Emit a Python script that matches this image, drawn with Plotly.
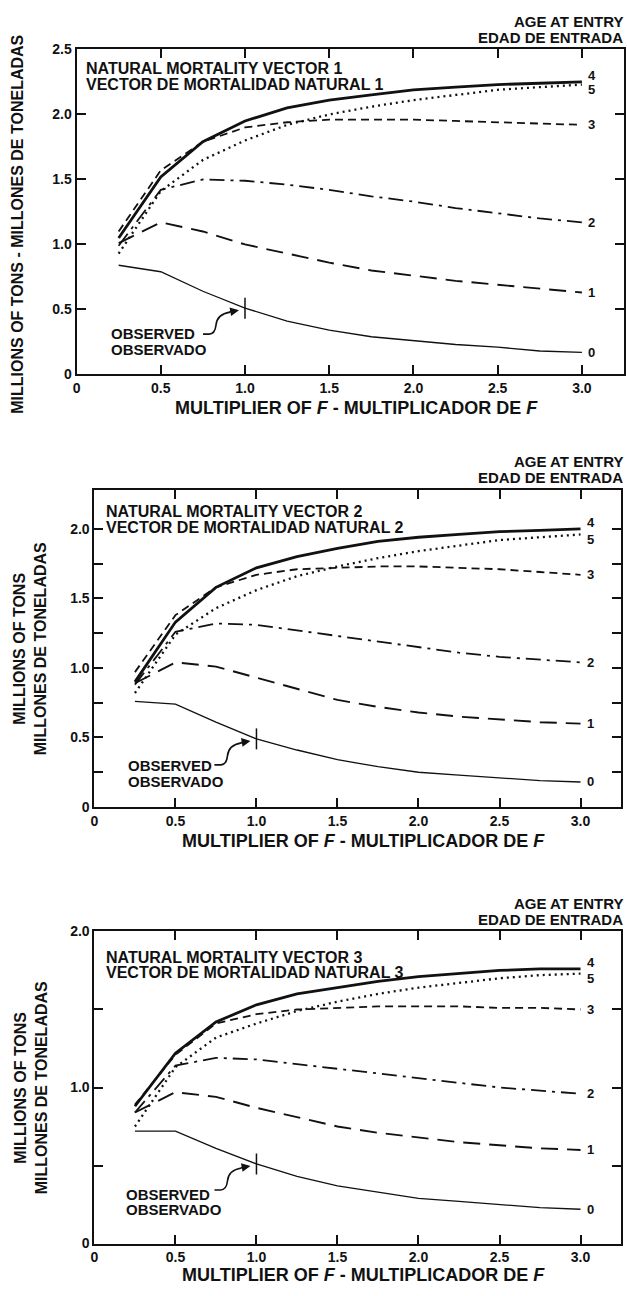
import plotly.graph_objects as go

# ---------------- data ----------------
F_MULT = [0.25, 0.5, 0.75, 1.0, 1.25, 1.5, 1.75, 2.0, 2.25, 2.5, 2.75, 3.0]
AGE_LABELS = ["0", "1", "2", "3", "4", "5"]
OBSERVED_F = 1.0

X_TICKS = [0, 0.5, 1.0, 1.5, 2.0, 2.5, 3.0]
X_TICKTEXT = ["0", "0.5", "1.0", "1.5", "2.0", "2.5", "3.0"]

# Vector 1
V1_AGE0 = [0.84, 0.79, 0.64, 0.51, 0.41, 0.34, 0.29, 0.26, 0.23, 0.21, 0.18, 0.17]
V1_AGE1 = [1.01, 1.17, 1.10, 1.00, 0.93, 0.86, 0.80, 0.76, 0.72, 0.69, 0.66, 0.63]
V1_AGE2 = [0.99, 1.42, 1.50, 1.49, 1.46, 1.42, 1.37, 1.33, 1.28, 1.24, 1.20, 1.17]
V1_AGE3 = [1.10, 1.57, 1.79, 1.90, 1.94, 1.96, 1.96, 1.96, 1.95, 1.94, 1.93, 1.92]
V1_AGE4 = [1.05, 1.52, 1.79, 1.95, 2.05, 2.11, 2.15, 2.19, 2.21, 2.23, 2.24, 2.25]
V1_AGE5 = [0.93, 1.41, 1.65, 1.80, 1.92, 2.00, 2.06, 2.11, 2.15, 2.19, 2.21, 2.23]

# Vector 2
V2_AGE0 = [0.76, 0.74, 0.61, 0.49, 0.41, 0.34, 0.29, 0.25, 0.23, 0.21, 0.19, 0.18]
V2_AGE1 = [0.89, 1.04, 1.01, 0.93, 0.85, 0.77, 0.72, 0.68, 0.65, 0.63, 0.61, 0.60]
V2_AGE2 = [0.88, 1.26, 1.32, 1.31, 1.27, 1.23, 1.19, 1.15, 1.11, 1.08, 1.06, 1.04]
V2_AGE3 = [0.97, 1.38, 1.58, 1.67, 1.71, 1.72, 1.73, 1.73, 1.72, 1.71, 1.69, 1.67]
V2_AGE4 = [0.90, 1.33, 1.58, 1.72, 1.80, 1.86, 1.91, 1.94, 1.96, 1.98, 1.99, 2.00]
V2_AGE5 = [0.82, 1.24, 1.43, 1.56, 1.66, 1.73, 1.79, 1.84, 1.88, 1.92, 1.94, 1.96]

# Vector 3
V3_AGE0 = [0.72, 0.72, 0.61, 0.51, 0.43, 0.37, 0.33, 0.29, 0.27, 0.25, 0.23, 0.22]
V3_AGE1 = [0.84, 0.97, 0.94, 0.87, 0.81, 0.75, 0.71, 0.68, 0.65, 0.63, 0.61, 0.60]
V3_AGE2 = [0.84, 1.14, 1.19, 1.18, 1.15, 1.12, 1.09, 1.06, 1.03, 1.00, 0.98, 0.96]
V3_AGE3 = [0.89, 1.21, 1.41, 1.47, 1.50, 1.51, 1.52, 1.52, 1.52, 1.51, 1.51, 1.50]
V3_AGE4 = [0.88, 1.22, 1.42, 1.53, 1.60, 1.64, 1.68, 1.71, 1.73, 1.75, 1.76, 1.76]
V3_AGE5 = [0.75, 1.13, 1.32, 1.41, 1.49, 1.55, 1.60, 1.64, 1.67, 1.70, 1.72, 1.73]

P1_YTICKS = [0, 0.5, 1.0, 1.5, 2.0, 2.5]
P1_YTEXT = ["0", "0.5", "1.0", "1.5", "2.0", "2.5"]
P2_YTICKS = [0, 0.25, 0.5, 0.75, 1.0, 1.25, 1.5, 1.75, 2.0]
P2_YTEXT = ["0", "", "0.5", "", "1.0", "", "1.5", "", "2.0"]
P3_YTICKS = [0, 0.5, 1.0, 1.5, 2.0]
P3_YTEXT = ["0", "", "1.0", "", "2.0"]

PANEL_TITLES = [
    ("NATURAL MORTALITY VECTOR 1", "VECTOR DE MORTALIDAD NATURAL 1"),
    ("NATURAL MORTALITY VECTOR 2", "VECTOR DE MORTALIDAD NATURAL 2"),
    ("NATURAL MORTALITY VECTOR 3", "VECTOR DE MORTALIDAD NATURAL 3"),
]

# ---------------- layout constants ----------------
W, H = 627, 1296
FONT = "Liberation Sans, Arial, Helvetica, sans-serif"
BLACK = "#111111"

STYLES = [
    dict(width=1.3, dash="solid"),
    dict(width=1.9, dash="17px,9px"),
    dict(width=1.8, dash="15px,6px,3px,6px"),
    dict(width=1.8, dash="8px,5px"),
    dict(width=2.8, dash="solid"),
    dict(width=2.3, dash="2px,4px"),
]
LABEL_YSHIFT = [0, 0, 0, 0, 6, -5]


def px_x(p):
    return p / W


def px_y(p):
    return 1 - p / H


panels = [
    dict(data=[V1_AGE0, V1_AGE1, V1_AGE2, V1_AGE3, V1_AGE4, V1_AGE5],
         xdom=(73, 624), ydom=(42, 371), yrange=[0, 2.5],
         yt=P1_YTICKS, ytt=P1_YTEXT,
         age_y=(14, 30), nat_x=82, nat_y=(61, 77), obs=(107, 330, 346),
         xtitle_y=405, ytitle_x=14, ytitle_one=True),
    dict(data=[V2_AGE0, V2_AGE1, V2_AGE2, V2_AGE3, V2_AGE4, V2_AGE5],
         xdom=(91, 621), ydom=(488, 809), yrange=[0, 2.28],
         yt=P2_YTICKS, ytt=P2_YTEXT,
         age_y=(459, 475), nat_x=102, nat_y=(510, 526), obs=(124, 767, 783),
         xtitle_y=843, ytitle_x=27, ytitle_one=False),
    dict(data=[V3_AGE0, V3_AGE1, V3_AGE2, V3_AGE3, V3_AGE4, V3_AGE5],
         xdom=(91, 621), ydom=(935, 1251), yrange=[0, 2.0],
         yt=P3_YTICKS, ytt=P3_YTEXT,
         age_y=(907, 923), nat_x=102, nat_y=(961, 977), obs=(122, 1201, 1217),
         xtitle_y=1283, ytitle_x=27, ytitle_one=False),
]

fig = go.Figure()
annotations = []
shapes = []

for i, p in enumerate(panels, start=1):
    sfx = "" if i == 1 else str(i)
    xref, yref = "x" + sfx, "y" + sfx
    for k, ys in enumerate(p["data"]):
        fig.add_trace(go.Scatter(
            x=F_MULT, y=ys, mode="lines", xaxis=xref, yaxis=yref,
            line=dict(color=BLACK, width=STYLES[k]["width"], dash=STYLES[k]["dash"]),
            showlegend=False, hoverinfo="skip"))
        annotations.append(dict(
            x=F_MULT[-1], y=ys[-1], xref=xref, yref=yref, text="<b>%s</b>" % AGE_LABELS[k],
            showarrow=False, xanchor="left", yanchor="middle", xshift=4,
            yshift=LABEL_YSHIFT[k], font=dict(family=FONT, size=13, color=BLACK)))
    # observed marker on age-0 curve
    age0 = p["data"][0]
    obs_y = age0[F_MULT.index(OBSERVED_F)]
    fig.add_trace(go.Scatter(
        x=[OBSERVED_F], y=[obs_y], mode="markers", xaxis=xref, yaxis=yref,
        marker=dict(symbol="line-ns", size=15, line=dict(color=BLACK, width=1.5)),
        showlegend=False, hoverinfo="skip"))
    # curved arrow
    shapes.append(dict(
        type="path", xref=xref, yref=yref, xsizemode="pixel", ysizemode="pixel",
        xanchor=OBSERVED_F, yanchor=obs_y,
        path="M -42,-26 L -36,-26 Q -30,-26 -29,-17 Q -28,-6 -15,-4",
        line=dict(color=BLACK, width=1.6)))
    annotations.append(dict(
        x=OBSERVED_F, y=obs_y, xref=xref, yref=yref, text="", showarrow=True,
        xshift=-6, yshift=-2, ax=-11, ay=2, arrowhead=2, arrowsize=1.1,
        arrowwidth=1.6, arrowcolor=BLACK))

    x0, x1 = p["xdom"]
    y0, y1 = p["ydom"]
    axis_common = dict(
        showline=True, linecolor=BLACK, linewidth=2, mirror="allticks",
        ticks="inside", ticklen=9, tickwidth=1.5, tickcolor=BLACK,
        showgrid=False, zeroline=False,
        tickfont=dict(family=FONT, size=14, color=BLACK, weight="bold"))
    fig.update_layout(**{
        "xaxis" + sfx: dict(domain=[px_x(x0), px_x(x1)], range=[0, 3.25],
                            anchor=yref, tickmode="array", tickvals=X_TICKS,
                            ticktext=X_TICKTEXT, **axis_common),
        "yaxis" + sfx: dict(domain=[px_y(y1), px_y(y0)], range=p["yrange"],
                            anchor=xref, tickmode="array", tickvals=p["yt"],
                            ticktext=p["ytt"], **axis_common),
    })

    # texts
    af = dict(family=FONT, size=15, color=BLACK)
    nf = dict(family=FONT, size=16, color=BLACK)
    annotations.append(dict(x=px_x(624), y=px_y(p["age_y"][0]), xref="paper", yref="paper",
                            text="<b>AGE AT ENTRY</b>", showarrow=False, xanchor="right",
                            yanchor="middle", font=af, borderpad=0))
    annotations.append(dict(x=px_x(624), y=px_y(p["age_y"][1]), xref="paper", yref="paper",
                            text="<b>EDAD DE ENTRADA</b>", showarrow=False, xanchor="right",
                            yanchor="middle", font=af, borderpad=0))
    t1, t2 = PANEL_TITLES[i - 1]
    annotations.append(dict(x=px_x(p["nat_x"]), y=px_y(p["nat_y"][0]), xref="paper", yref="paper",
                            text="<b>%s</b>" % t1, showarrow=False, xanchor="left",
                            yanchor="middle", font=nf, borderpad=0))
    annotations.append(dict(x=px_x(p["nat_x"]), y=px_y(p["nat_y"][1]), xref="paper", yref="paper",
                            text="<b>%s</b>" % t2, showarrow=False, xanchor="left",
                            yanchor="middle", font=nf, borderpad=0))
    ox, oy1, oy2 = p["obs"]
    annotations.append(dict(x=px_x(ox), y=px_y(oy1), xref="paper", yref="paper",
                            text="<b>OBSERVED</b>", showarrow=False, xanchor="left",
                            yanchor="middle", font=af, borderpad=0))
    annotations.append(dict(x=px_x(ox), y=px_y(oy2), xref="paper", yref="paper",
                            text="<b>OBSERVADO</b>", showarrow=False, xanchor="left",
                            yanchor="middle", font=af, borderpad=0))
    annotations.append(dict(x=px_x((x0 + x1) / 2 + 6), y=px_y(p["xtitle_y"]), xref="paper",
                            yref="paper",
                            text="<b>MULTIPLIER OF <i>F</i> - MULTIPLICADOR DE <i>F</i></b>",
                            showarrow=False, xanchor="center", yanchor="middle",
                            font=dict(family=FONT, size=18, color=BLACK)))
    ytxt = ("<b>MILLIONS OF TONS - MILLONES DE TONELADAS</b>" if p["ytitle_one"]
            else "<b>MILLIONS OF TONS<br>MILLONES DE TONELADAS</b>")
    annotations.append(dict(x=px_x(p["ytitle_x"]), y=px_y((y0 + y1) / 2 + (12 if p["ytitle_one"] else 0)),
                            xref="paper", yref="paper", text=ytxt, showarrow=False,
                            textangle=-90, xanchor="center", yanchor="middle",
                            font=dict(family=FONT, size=16, color=BLACK)))

fig.update_layout(
    width=W, height=H, margin=dict(l=0, r=0, t=0, b=0),
    paper_bgcolor="white", plot_bgcolor="white",
    annotations=annotations, shapes=shapes,
)

fig.write_html(
    "out.html",
    config={"displayModeBar": False},
    post_script="document.body.style.margin='0';document.body.style.overflow='hidden';",
)
